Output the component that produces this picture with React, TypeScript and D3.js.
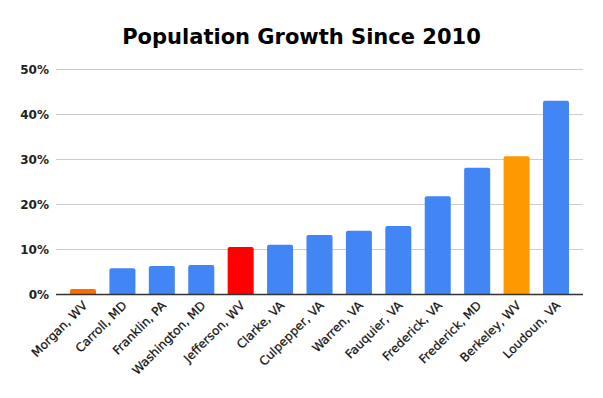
import React, { useEffect, useRef } from "react";
import * as d3 from "d3";

const counties = [
  "Morgan, WV", "Carroll, MD", "Franklin, PA", "Washington, MD", "Jefferson, WV",
  "Clarke, VA", "Culpepper, VA", "Warren, VA", "Fauquier, VA", "Frederick, VA",
  "Frederick, MD", "Berkeley, WV", "Loudoun, VA",
];
const growth = [1.2, 5.8, 6.3, 6.5, 10.5, 11.0, 13.2, 14.1, 15.2, 21.8, 28.1, 30.7, 43.0];
const barColors = [
  "#ff6d01", "#4285f4", "#4285f4", "#4285f4", "#ff0000", "#4285f4", "#4285f4",
  "#4285f4", "#4285f4", "#4285f4", "#4285f4", "#ff9900", "#4285f4",
];
const yTicks = [0, 10, 20, 30, 40, 50];

const width = 603;
const height = 398;

const App = () => {
  const ref = useRef<SVGSVGElement>(null);

  useEffect(() => {
    const svg = d3.select(ref.current);
    svg.selectAll("*").remove();

    const x = d3.scaleBand().domain(counties).range([63.3, 575.7]).paddingInner(0.34).paddingOuter(0.17);
    const y = d3.scaleLinear().domain([0, 50]).range([294.3, 69.3]);
    const left = 56;
    const right = 583;

    svg
      .append("text")
      .attr("x", width / 2)
      .attr("y", 44)
      .attr("text-anchor", "middle")
      .attr("font-family", "DejaVu Sans")
      .attr("font-weight", "bold")
      .attr("font-size", 21)
      .attr("fill", "#000")
      .text("Population Growth Since 2010");

    const grid = svg.append("g");
    grid
      .selectAll("line")
      .data(yTicks.filter((t) => t > 0))
      .join("line")
      .attr("x1", left)
      .attr("x2", right)
      .attr("y1", (d) => Math.round(y(d)) + 0.5)
      .attr("y2", (d) => Math.round(y(d)) + 0.5)
      .attr("stroke", "#cccccc")
      .attr("stroke-width", 1);

    grid
      .selectAll("text")
      .data(yTicks)
      .join("text")
      .attr("x", 49)
      .attr("y", (d) => y(d) + 4.5)
      .attr("text-anchor", "end")
      .attr("font-family", "DejaVu Sans")
      .attr("font-weight", "bold")
      .attr("font-size", 12)
      .attr("fill", "#222")
      .text((d) => d + "%");

    svg
      .append("g")
      .selectAll("path")
      .data(growth)
      .join("path")
      .attr("fill", (d, i) => barColors[i])
      .attr("d", (d, i) => {
        const x0 = x(counties[i]) as number;
        const w = x.bandwidth();
        const top = y(d);
        const base = y(0);
        const r = Math.min(2, base - top);
        return `M${x0},${base}V${top + r}Q${x0},${top} ${x0 + r},${top}H${x0 + w - r}Q${x0 + w},${top} ${x0 + w},${top + r}V${base}Z`;
      });

    svg
      .append("line")
      .attr("x1", left)
      .attr("x2", right)
      .attr("y1", Math.round(y(0)) + 0.5)
      .attr("y2", Math.round(y(0)) + 0.5)
      .attr("stroke", "#333")
      .attr("stroke-width", 1.3);

    svg
      .append("g")
      .selectAll("text")
      .data(counties)
      .join("text")
      .attr("transform", (d) => {
        const cx = (x(d) as number) + x.bandwidth() / 2 + 5;
        return `translate(${cx},${y(0) + 12}) rotate(-45)`;
      })
      .attr("text-anchor", "end")
      .attr("font-family", "DejaVu Sans")
      .attr("font-size", 12)
      .attr("stroke", "#111")
      .attr("stroke-width", 0.25)
      .attr("fill", "#111")
      .text((d) => d);
  }, []);

  return (
    <div style={{ margin: -8 }}>
      <svg ref={ref} width={width} height={height} style={{ display: "block", background: "#fff" }} />
    </div>
  );
};

export default App;
